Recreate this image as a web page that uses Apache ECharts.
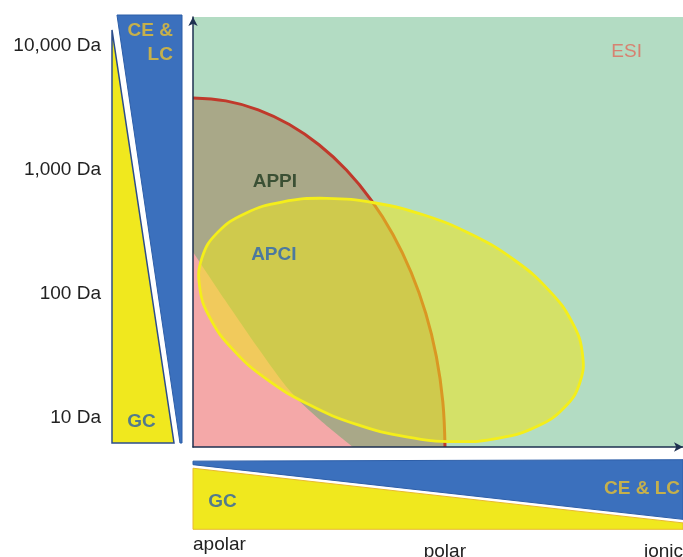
<!DOCTYPE html>
<html><head><meta charset="utf-8">
<script src="https://cdn.jsdelivr.net/npm/echarts@6/dist/echarts.min.js"></script>
<style>html,body{margin:0;padding:0;background:#fff}#c{width:683px;height:557px}</style>
</head><body><div id="c"></div>
<script>
// Main diagram: x = polarity (0 apolar ... 100 ionic), y = log10(mass in Da)
const polarityTickValues = [0, 51.4, 100];
const polarityTickLabels = ['apolar', 'polar', 'ionic'];
const massTickValues = [1, 2, 3, 4];
const massTickLabels = ['10 Da', '100 Da', '1,000 Da', '10,000 Da'];

// APPI upper boundary (red curve)
const appiBoundary = [
  [0, 3.557], [6.71, 3.533], [13.31, 3.461], [19.67, 3.342], [25.71, 3.179],
  [31.31, 2.975], [36.37, 2.732], [40.80, 2.455], [44.53, 2.148], [47.51, 1.818],
  [49.67, 1.469], [50.98, 1.107], [51.43, 0.74]
];
// pink (lower-left) region boundary
const pinkBoundary = [
  [0, 2.314], [6.53, 1.926], [13.27, 1.539], [19.80, 1.192], [25.92, 0.958], [32.65, 0.74]
];
// APCI outline (closed)
const apciOutline = [
  [78.96, 1.261], [75.84, 1.060], [70.27, 0.907], [62.69, 0.813], [53.57, 0.783],
  [43.57, 0.821], [33.37, 0.922], [23.63, 1.082], [15.02, 1.287], [8.16, 1.526],
  [3.49, 1.780], [1.35, 2.034], [1.86, 2.270], [4.98, 2.470], [10.55, 2.623],
  [18.12, 2.717], [27.24, 2.747], [37.24, 2.709], [47.45, 2.608], [57.20, 2.448],
  [65.80, 2.243], [72.65, 2.004], [77.33, 1.750], [79.47, 1.496]
];

// Side panels (relative 0-100 units)
const leftGC = [[0, 0], [0, 96.5], [88.6, 0]];
const leftCELC = [[7.1, 100], [100, 100], [100, 0], [97.1, 0]];
const bottomCELC = [[0, 97], [100, 99], [100, 15], [0, 92]];
const bottomGC = [[0, 87], [100, 10], [100, 1], [0, 1]];

// Region labels: [text, x, y]
const mainLabels = [['APPI', 16.7, 2.88], ['APCI', 16.5, 2.29], ['ESI', 88.5, 3.93]];
const leftLabels = [['CE &\nLC', 87, 93.5], ['GC', 42, 4.9]];
const bottomLabels = [['GC', 6, 39.4], ['CE & LC', 99.4, 57.7]];

const FONT = 'Liberation Sans, Arial, sans-serif';
const labelStyles = {
  'APPI': {color: '#1f3a1f', fontWeight: 'bold', align: 'center'},
  'APCI': {color: '#2a64b4', fontWeight: 'bold', align: 'center'},
  'ESI': {color: '#e06c5c', fontWeight: 'normal', align: 'center'},
  'GC': {color: '#2a5fa8', fontWeight: 'bold', align: 'center'},
  'CE &\nLC': {color: '#e8c030', fontWeight: 'bold', align: 'right', lineHeight: 24},
  'CE & LC': {color: '#e8c030', fontWeight: 'bold', align: 'right'}
};

function polySeries(pts, idx, style, smooth, z) {
  return {
    type: 'custom', xAxisIndex: idx, yAxisIndex: idx, silent: true, z: z,
    data: [pts[0]],
    renderItem: function (params, api) {
      return {
        type: 'polygon',
        shape: {points: pts.map(p => api.coord(p)), smooth: smooth || 0},
        style: style
      };
    }
  };
}
function labelSeries(list, idx) {
  return {
    type: 'scatter', xAxisIndex: idx, yAxisIndex: idx, symbolSize: 0, silent: true, z: 10,
    data: list.map(l => ({
      name: l[0], value: [l[1], l[2]],
      label: Object.assign({show: true, position: 'inside', formatter: '{b}',
        fontSize: 19, fontFamily: FONT, verticalAlign: 'middle'}, labelStyles[l[0]])
    }))
  };
}

const chart = echarts.init(document.getElementById('c'));
chart.setOption({
  animation: false,
  backgroundColor: '#ffffff',
  grid: [
    {left: 193, top: 17, width: 490, height: 430, show: true, backgroundColor: '#b3dcc3', borderWidth: 0,
      outerBoundsMode: 'none', containLabel: false},
    {left: 112, top: 15, width: 70, height: 428, outerBoundsMode: 'none', containLabel: false},
    {left: 193, top: 459, width: 490, height: 71, outerBoundsMode: 'none', containLabel: false}
  ],
  xAxis: [
    {gridIndex: 0, type: 'value', min: 0, max: 100, z: 6,
      axisLine: {show: true, lineStyle: {color: '#1e3050', width: 1.5}, symbol: ['none', 'arrow'], symbolSize: [7, 9]},
      axisTick: {show: false}, splitLine: {show: false},
      axisLabel: {
        customValues: polarityTickValues, margin: 88, alignMinLabel: 'left', alignMaxLabel: 'right',
        fontSize: 19, fontFamily: FONT, color: '#222',
        formatter: function (v) {
          const i = polarityTickValues.findIndex(t => Math.abs(t - v) < 1e-6);
          return i === 0 ? '{a|' + polarityTickLabels[i] + '}' : '{b|' + polarityTickLabels[i] + '}';
        },
        rich: {a: {fontSize: 19, fontFamily: FONT, color: '#222'},
               b: {fontSize: 19, fontFamily: FONT, color: '#222', padding: [7, 0, 0, 0]}}
      }},
    {gridIndex: 1, type: 'value', min: 0, max: 100, show: false},
    {gridIndex: 2, type: 'value', min: 0, max: 100, show: false}
  ],
  yAxis: [
    {gridIndex: 0, type: 'value', min: 0.74, max: 4.21, z: 6,
      axisLine: {show: true, lineStyle: {color: '#1e3050', width: 1.5}, symbol: ['none', 'arrow'], symbolSize: [7, 9]},
      axisTick: {show: false}, splitLine: {show: false},
      axisLabel: {
        customValues: massTickValues, margin: 92, fontSize: 19, fontFamily: FONT, color: '#222',
        formatter: function (v) {
          const i = massTickValues.findIndex(t => Math.abs(t - v) < 1e-6);
          return '{m|' + massTickLabels[i] + '}';
        },
        rich: {m: {fontSize: 19, fontFamily: FONT, color: '#222', padding: [5, 0, 0, 0]}}
      }},
    {gridIndex: 1, type: 'value', min: 0, max: 100, show: false},
    {gridIndex: 2, type: 'value', min: 0, max: 100, show: false}
  ],
  series: [
    {type: 'line', xAxisIndex: 0, yAxisIndex: 0, data: appiBoundary, smooth: 0.4, symbol: 'none', silent: true, z: 2,
      lineStyle: {color: '#c0392b', width: 3}, areaStyle: {color: '#a9a888', opacity: 1, origin: 'start'}},
    {type: 'line', xAxisIndex: 0, yAxisIndex: 0, data: pinkBoundary, smooth: 0.3, symbol: 'none', silent: true, z: 3,
      lineStyle: {width: 0}, areaStyle: {color: '#f4a8a8', opacity: 1, origin: 'start'}},
    polySeries(apciOutline, 0, {fill: 'rgba(239,230,30,0.55)', stroke: '#f4ee1a', lineWidth: 2.8}, 0.45, 4),
    polySeries(leftGC, 1, {fill: '#f0e81e', stroke: '#2c4d8c', lineWidth: 1.5}, 0, 2),
    polySeries(leftCELC, 1, {fill: '#3b70bd', stroke: '#2d5ea8', lineWidth: 1}, 0, 2),
    polySeries(bottomCELC, 2, {fill: '#3b70bd', stroke: '#2d5ea8', lineWidth: 1}, 0, 2),
    polySeries(bottomGC, 2, {fill: '#f0e81e', stroke: '#e8b830', lineWidth: 1}, 0, 2),
    labelSeries(mainLabels, 0),
    labelSeries(leftLabels, 1),
    labelSeries(bottomLabels, 2)
  ]
});
</script>
</body></html>
